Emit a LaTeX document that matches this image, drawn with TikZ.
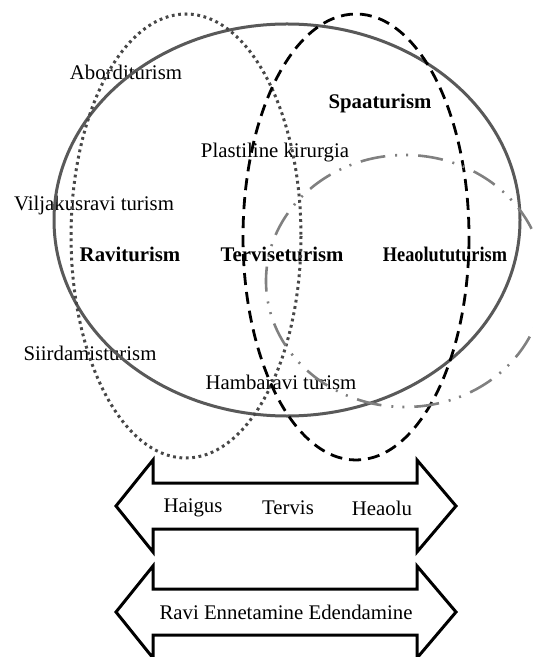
\documentclass[tikz,border=0pt]{standalone}
\usepackage{fontspec}
\setmainfont{Liberation Serif}
\usetikzlibrary{calc}

\begin{document}
\begin{tikzpicture}[x=0.5pt,y=-0.5pt,
  lbl/.style={font=\fontsize{10.4}{12}\selectfont},
  blbl/.style={font=\fontsize{10.4}{12}\selectfont\bfseries},
  arrowbox/.style={line width=1.5pt,line join=miter}]
  \useasboundingbox (0,0) rectangle (533,657);
  % labels
  \node[lbl] (abort) at (126,72) {Aborditurism};
  \node[lbl] (viljak) at (94,205) {Viljakusravi turism};
  \node[lbl] (siird) at (90,353) {Siirdamisturism};
  \node[lbl] (plast) at (275,153) {Plastiline kirurgia};
  \node[lbl] (hamba) at (281,382) {Hambaravi turism};
  \node[blbl] (spaa) at (380,104) {Spaaturism};
  \node[blbl] (ravit) at (130,254) {Raviturism};
  \node[blbl] (tervt) at (282,254) {Terviseturism};
  \node[blbl,transform shape,xscale=0.88] (heaot) at (445,254) {Heaolututurism};
  % ellipses
  \draw[line width=1.5pt,black!65] (287,220) ellipse (233 and 196);
  \draw[line width=1.5pt,black!72,dash pattern=on 1.4pt off 1.8pt] (186,236) ellipse (115 and 222);
  \draw[line width=1.4pt,dash pattern=on 6pt off 3.5pt] (356,237) ellipse (113 and 223);
  \draw[line width=1.3pt,black!50,dash pattern=on 12.5pt off 5pt on 1pt off 4.5pt on 1pt off 5pt] (405,281) ellipse (139 and 126);
  % double arrows
  \foreach \ay in {506,612}{
    \draw[arrowbox] (116,\ay) -- (153,\ay-46) -- (153,\ay-23) -- (417,\ay-23) -- (417,\ay-46)
      -- (456,\ay) -- (417,\ay+46) -- (417,\ay+23) -- (153,\ay+23) -- (153,\ay+46) -- cycle;
  }
  \node[lbl] (haigus) at (193,508) {Haigus};
  \node[lbl] (tervis) at (288,508) {Tervis};
  \node[lbl] (heaolu) at (382,508) {Heaolu};
  \node[lbl] (ravi) at (286,612) {Ravi Ennetamine Edendamine};
\end{tikzpicture}
\end{document}
